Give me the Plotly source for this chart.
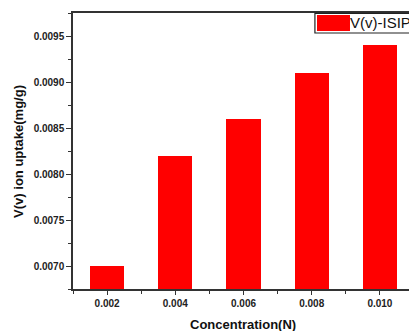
import plotly.graph_objects as go

concentration = [0.002, 0.004, 0.006, 0.008, 0.010]
uptake = [0.0070, 0.0082, 0.0086, 0.0091, 0.0094]
x_ticks = [0.002, 0.004, 0.006, 0.008, 0.010]
x_labels = ["0.002", "0.004", "0.006", "0.008", "0.010"]
y_ticks = [0.0070, 0.0075, 0.0080, 0.0085, 0.0090, 0.0095]
y_labels = ["0.0070", "0.0075", "0.0080", "0.0085", "0.0090", "0.0095"]
series_name = "V(v)-ISIP"

FONT = "Liberation Sans, Arial, sans-serif"
AX = "#333333"

fig = go.Figure()
fig.add_trace(go.Bar(x=concentration, y=uptake, width=0.001,
                     marker=dict(color="#FF0000", line=dict(width=0)),
                     name=series_name, showlegend=False))

fig.update_layout(
    width=409, height=331,
    margin=dict(l=73, r=0, t=13, b=42),
    paper_bgcolor="white", plot_bgcolor="white",
    bargap=0,
    xaxis=dict(range=[0.001, 0.010853], tickvals=x_ticks, ticktext=x_labels,
               ticks="outside", ticklen=4, tickwidth=1.2, tickcolor=AX,
               showline=True, linecolor=AX, linewidth=1.5, mirror=True,
               showgrid=False, zeroline=False,
               tickfont=dict(family=FONT, size=10, color="#222", weight="bold"),
               minor=dict(tickvals=[0.001, 0.003, 0.005, 0.007, 0.009],
                          ticks="outside", ticklen=3, tickcolor=AX, tickwidth=1)),
    yaxis=dict(range=[0.00675, 0.00975], tickvals=y_ticks, ticktext=y_labels,
               ticks="outside", ticklen=5, tickwidth=1.2, tickcolor=AX,
               showline=True, linecolor=AX, linewidth=1.5, mirror=False,
               showgrid=False, zeroline=False,
               tickfont=dict(family=FONT, size=10, color="#222", weight="bold"),
               minor=dict(dtick=0.00025, ticks="outside", ticklen=3,
                          tickcolor=AX, tickwidth=1)),
    shapes=[
        dict(type="rect", xref="paper", yref="paper", x0=0.720, x1=1.02,
             y0=0.9275, y1=0.9989, line=dict(color="#222", width=1.2),
             fillcolor="white", layer="above"),
        dict(type="rect", xref="paper", yref="paper", x0=0.7262, x1=0.8244,
             y0=0.9348, y1=0.9928, line=dict(width=0), fillcolor="#FF0000",
             layer="above"),
    ],
    annotations=[
        dict(text=series_name, xref="paper", yref="paper", x=0.818, y=0.9638,
             xanchor="left", yanchor="middle", showarrow=False,
             font=dict(family=FONT, size=15, color="#111")),
        dict(text="V(v) ion uptake(mg/g)", xref="paper", yref="paper",
             x=-0.164, y=0.5, textangle=-90, xanchor="center", yanchor="middle",
             showarrow=False,
             font=dict(family=FONT, size=13, color="#111", weight="bold")),
        dict(text="Concentration(N)", xref="paper", yref="paper",
             x=0.506, y=-0.13, xanchor="center", yanchor="middle",
             showarrow=False,
             font=dict(family=FONT, size=13, color="#111", weight="bold")),
    ],
)

fig.write_html("out.html", config={"displayModeBar": False},
               post_script="document.body.style.margin='0';")
